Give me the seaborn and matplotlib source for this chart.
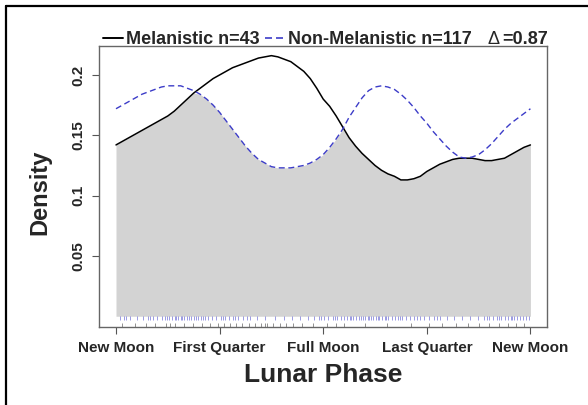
import numpy as np
import pandas as pd
import seaborn as sns
import matplotlib.pyplot as plt
from matplotlib.lines import Line2D

# lunar phase in quarters: 0 new moon, 1 first quarter, 2 full, 3 last, 4 new
phase = [0, 0.0625, 0.125, 0.1875, 0.25, 0.3125, 0.375, 0.4375,
         0.5, 0.5625, 0.625, 0.6875, 0.75, 0.8125, 0.875, 0.9375,
         1, 1.0625, 1.125, 1.1875, 1.25, 1.3125, 1.375, 1.4375,
         1.5, 1.5625, 1.625, 1.6875, 1.75, 1.8125, 1.875, 1.9375,
         2, 2.0625, 2.125, 2.1875, 2.25, 2.3125, 2.375, 2.4375,
         2.5, 2.5625, 2.625, 2.6875, 2.75, 2.8125, 2.875, 2.9375,
         3, 3.0625, 3.125, 3.1875, 3.25, 3.3125, 3.375, 3.4375,
         3.5, 3.5625, 3.625, 3.6875, 3.75, 3.8125, 3.875, 3.9375, 4]

dens_mel = [0.142, 0.145, 0.148, 0.151, 0.154, 0.157, 0.160, 0.163,
            0.166, 0.170, 0.175, 0.180, 0.185, 0.189, 0.193, 0.197,
            0.200, 0.203, 0.206, 0.208, 0.210, 0.212, 0.214, 0.215,
            0.216, 0.215, 0.213, 0.211, 0.207, 0.203, 0.197, 0.189,
            0.180, 0.174, 0.166, 0.157, 0.148, 0.141, 0.135, 0.130,
            0.125, 0.121, 0.118, 0.116, 0.113, 0.113, 0.114, 0.116,
            0.120, 0.123, 0.126, 0.128, 0.130, 0.131, 0.131, 0.131,
            0.130, 0.129, 0.129, 0.130, 0.131, 0.134, 0.137, 0.140, 0.142]

dens_non = [0.172, 0.175, 0.178, 0.181, 0.184, 0.186, 0.188, 0.190,
            0.191, 0.191, 0.191, 0.189, 0.187, 0.184, 0.180, 0.175,
            0.169, 0.162, 0.155, 0.148, 0.141, 0.135, 0.130, 0.127,
            0.124, 0.123, 0.123, 0.123, 0.124, 0.125, 0.127, 0.130,
            0.134, 0.140, 0.147, 0.155, 0.165, 0.173, 0.181, 0.187,
            0.190, 0.191, 0.190, 0.188, 0.184, 0.179, 0.173, 0.166,
            0.160, 0.153, 0.147, 0.141, 0.136, 0.132, 0.131, 0.132,
            0.134, 0.138, 0.143, 0.149, 0.155, 0.160, 0.164, 0.168, 0.172]

# observations (rug), in quarters
obs_mel = [0.06, 0.18, 0.29, 0.38, 0.48, 0.52, 0.57, 0.66, 0.74, 0.83, 0.91,
           0.98, 1.04, 1.10, 1.16, 1.22, 1.28, 1.34, 1.40, 1.44, 1.46, 1.52,
           1.58, 1.64, 1.71, 1.80, 1.90,
           2.04, 2.12, 2.20, 2.40, 2.62, 2.85,
           3.02, 3.15, 3.28, 3.40, 3.50, 3.60, 3.70, 3.78, 3.86, 3.94]

obs_non = [0.04, 0.08, 0.10, 0.14, 0.20, 0.26, 0.31, 0.33, 0.36, 0.40, 0.44,
           0.47, 0.49, 0.51, 0.54, 0.57, 0.58, 0.60, 0.63, 0.64, 0.66, 0.69,
           0.70, 0.72, 0.75, 0.77, 0.79, 0.82, 0.84, 0.86, 0.89, 0.93, 0.97,
           1.01, 1.03, 1.05, 1.09, 1.13, 1.15, 1.18, 1.23, 1.26, 1.29, 1.36,
           1.44, 1.53, 1.62, 1.70, 1.78, 1.85, 1.91, 1.96, 1.98,
           2.01, 2.05, 2.09, 2.11, 2.13, 2.17, 2.20, 2.23, 2.26, 2.27, 2.29,
           2.32, 2.35, 2.36, 2.38, 2.40, 2.43, 2.44, 2.46, 2.48, 2.51, 2.53,
           2.54, 2.57, 2.60, 2.61, 2.63, 2.66, 2.69, 2.72, 2.74, 2.76, 2.80,
           2.84, 2.88, 2.91, 2.93, 2.97,
           3.02, 3.07, 3.10, 3.13, 3.19, 3.26, 3.34, 3.42, 3.49, 3.55, 3.58,
           3.60, 3.64, 3.68, 3.70, 3.72, 3.75, 3.78, 3.81, 3.82, 3.84, 3.87,
           3.90, 3.93, 3.96, 3.99]

tick_pos = [0, 1, 2, 3, 4]
tick_lab = ["New Moon", "First Quarter", "Full Moon", "Last Quarter", "New Moon"]
ytick_pos = [0.05, 0.1, 0.15, 0.2]
ytick_lab = ["0.05", "0.1", "0.15", "0.2"]

BLUE = "#3c3cc8"
GREY = "#d3d3d3"

sns.set_style("white")
plt.rcParams["font.family"] = ["Liberation Sans", "DejaVu Sans"]

df = pd.DataFrame({"phase": phase, "mel": dens_mel, "non": dens_non})

fig = plt.figure(figsize=(5.88, 4.05), dpi=100)
ax = fig.add_axes([99 / 588, 1 - 327 / 405, 448 / 588, 281 / 405])

# overlap area
ax.fill_between(df["phase"], 0, np.minimum(df["mel"], df["non"]),
                color=GREY, linewidth=0)

sns.lineplot(data=df, x="phase", y="mel", color="black", lw=1.1, ax=ax)
sns.lineplot(data=df, x="phase", y="non", color=BLUE, lw=1.0, ax=ax)
ax.lines[-1].set_dashes((4.3, 2.6))

# rugs
ax.vlines(obs_non, -0.0027, 0.0002, color=BLUE, lw=0.6, alpha=0.6)
ax.vlines(obs_mel, -0.0085, -0.0056, color="black", lw=0.6, alpha=0.5)

ax.set_xlim(-0.164, 4.16)
ax.set_ylim(-0.0089, 0.224)

ax.set_xticks(tick_pos)
ax.set_xticklabels(tick_lab, fontsize=11, fontweight="bold")
ax.set_yticks(ytick_pos)
ax.set_yticklabels(ytick_lab, fontsize=11, fontweight="bold", rotation=90,
                   va="center")
ax.tick_params(axis="both", direction="out", length=5, width=0.8,
               color="#555555", pad=5, bottom=True, left=True)

for s in ax.spines.values():
    s.set_color("#666666")
    s.set_linewidth(1.0)

ax.set_xlabel("Lunar Phase", fontsize=19, fontweight="bold", labelpad=6)
ax.set_ylabel("Density", fontsize=17, fontweight="bold")
ax.yaxis.set_label_coords(-0.107, 0.48)

# legend-style title
ty = 1 - 44 / 405
ly = 1 - 37.5 / 405
fig.add_artist(Line2D([103 / 588, 123 / 588], [ly, ly], color="black", lw=1.4))
fig.text(126 / 588, ty, "Melanistic n=43", fontsize=13, fontweight="bold",
         va="baseline", ha="left")
fig.add_artist(Line2D([265 / 588, 283 / 588], [ly, ly], color=BLUE, lw=1.2,
                      dashes=(4.2, 2.4)))
fig.text(288 / 588, ty, "Non-Melanistic n=117", fontsize=13,
         fontweight="bold", va="baseline", ha="left")
fig.text(487 / 588, ty, "\u0394", fontsize=13, va="baseline", ha="left")
fig.text(502 / 588, ty, "=0.87", fontsize=13, fontweight="bold",
         va="baseline", ha="left")

# outer frame (left and top edges)
fig.add_artist(Line2D([6 / 588, 6 / 588], [0, 1 - 6 / 405], color="black", lw=1.6))
fig.add_artist(Line2D([6 / 588, 1], [1 - 6 / 405] * 2, color="black", lw=1.6))

fig.savefig("out.png", dpi=100)
